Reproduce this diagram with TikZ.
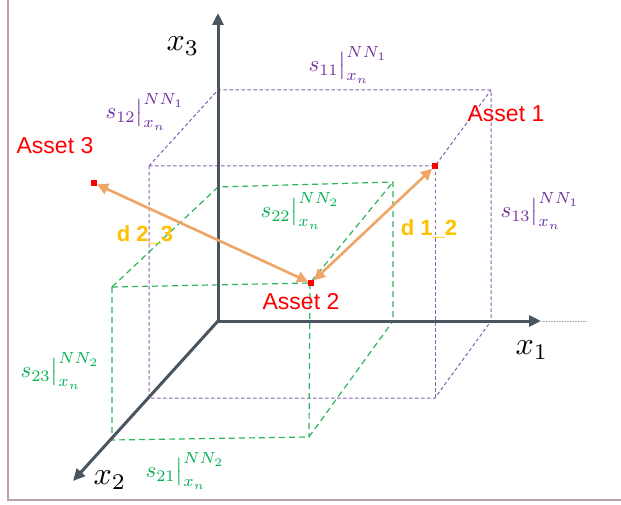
\documentclass[tikz,border=0pt]{standalone}
\usepackage{fontspec}
\setsansfont{Liberation Sans}
\usetikzlibrary{arrows.meta}
\definecolor{axisgray}{HTML}{4A5560}
\definecolor{framecol}{HTML}{B8A2B2}
\definecolor{purp}{HTML}{7030A0}
\definecolor{purpline}{HTML}{8460B0}
\definecolor{grn}{HTML}{00B050}
\definecolor{grnline}{HTML}{2DB45E}
\definecolor{assetred}{HTML}{FF0000}
\definecolor{arrorange}{HTML}{EFA566}
\definecolor{gold}{HTML}{FFC000}
\tikzset{
  axisline/.style={draw=axisgray,line width=3pt,-{Triangle[length=12pt,width=11pt]}},
  purpbox/.style={draw=purpline,line width=1pt,dash pattern=on 3.5pt off 2.5pt},
  grnbox/.style={draw=grnline,line width=1.2pt,dash pattern=on 6pt off 4pt},
  marker/.style={fill=assetred,minimum size=6pt,inner sep=0pt,outer sep=0pt,rectangle},
  distarrow/.style={draw=arrorange,line width=2.6pt,{Triangle[length=11pt,width=11pt]}-{Triangle[length=11pt,width=11pt]}},
  assetlbl/.style={text=assetred,font=\sffamily\fontsize{23}{26}\selectfont,inner sep=0pt},
  distlbl/.style={text=gold,font=\sffamily\bfseries\fontsize{22}{26}\selectfont,inner sep=0pt},
  mathlbl/.style={font=\normalsize,scale=2.3,inner sep=0pt},
  axislbl/.style={font=\normalsize,scale=3.2,inner sep=0pt}
}
\begin{document}
\begin{tikzpicture}[x=1pt,y=-1pt]
\useasboundingbox (0,0) rectangle (621,505);
\draw[framecol,line width=2pt] (8,0) -- (8,500) -- (621,500);

% coordinates
\coordinate (O) at (218,321);
\coordinate (X1) at (541,321);
\coordinate (X1e) at (586,321);
\coordinate (X2) at (73,481);
\coordinate (X3) at (218,13);

% purple box
\coordinate (PBtl) at (218,90);
\coordinate (PBtr) at (491,90);
\coordinate (PBbr) at (491,321);
\coordinate (PFtl) at (149,166);
\coordinate (PFtr) at (435,166);
\coordinate (PFbr) at (435,400);
\coordinate (PFbl) at (149,398);
\coordinate (PFbrc) at (435,398);

% green box
\coordinate (GBtl) at (218,187);
\coordinate (GBtr) at (393,182);
\coordinate (GBbr) at (393,321);
\coordinate (GFtl) at (112,287);
\coordinate (GFtr) at (310,283);
\coordinate (GFbr) at (309,437);
\coordinate (GFbl) at (112,440);

% purple dashed box
\draw[purpbox] (PFtl) -- (PBtl) -- (PBtr) -- (PBbr);
\draw[purpbox] (PFtl) -- (PFtr) -- (PBtr);
\draw[purpbox] (PFtl) -- (PFbl) -- (PFbrc) -- (PBbr);
\draw[purpbox] (PFtr) -- (PFbr);

% green dashed box
\draw[grnbox] (GFtl) -- (GBtl) -- (GBtr) -- (GBbr);
\draw[grnbox] (GFtl) -- (GFtr) -- (GBtr);
\draw[grnbox] (GFtl) -- (GFbl) -- (GFbr) -- (GBbr);
\draw[grnbox] (GFtr) -- (GFbr);

% axes
\draw[gray!70,line width=0.6pt,densely dotted] (X1) -- (X1e);
\draw[axisline] (O) -- (X3);
\draw[axisline] (O) -- (X1);
\draw[axisline] (O) -- (X2);

% assets
\node[marker] (A1) at (435,166) {};
\node[marker] (A2) at (311,283) {};
\node[marker] (A3) at (94,183) {};
\draw[distarrow] (A3) -- (A2);
\draw[distarrow] (A2) -- (A1);

% labels
\node[assetlbl] (L1) at (506,114) {Asset 1};
\node[assetlbl] (L2) at (301,302) {Asset 2};
\node[assetlbl] (L3) at (55,146) {Asset 3};
\node[distlbl] (D23) at (145,235) {d 2\_3};
\node[distlbl] (D12) at (429,229) {d 1\_2};

\node[mathlbl,text=purp] (S11) at (348,65) {$s_{11}\big|_{x_n}^{NN_1}$};
\node[mathlbl,text=purp] (S12) at (145,112) {$s_{12}\big|_{x_n}^{NN_1}$};
\node[mathlbl,text=purp] (S13) at (540,211) {$s_{13}\big|_{x_n}^{NN_1}$};
\node[mathlbl,text=grn] (S22) at (300,211) {$s_{22}\big|_{x_n}^{NN_2}$};
\node[mathlbl,text=grn] (S23) at (60,371) {$s_{23}\big|_{x_n}^{NN_2}$};
\node[mathlbl,text=grn] (S21) at (185,471) {$s_{21}\big|_{x_n}^{NN_2}$};

\node[axislbl] (LX3) at (183,46) {$x_3$};
\node[axislbl] (LX1) at (532,350) {$x_1$};
\node[axislbl] (LX2) at (110,480) {$x_2$};
\end{tikzpicture}
\end{document}
